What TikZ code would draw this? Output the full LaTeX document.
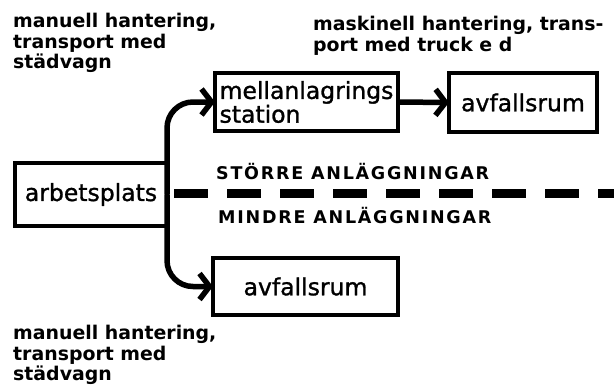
\documentclass[tikz,border=0pt]{standalone}
\usepackage{fontspec}
\setmainfont{DejaVu Sans}
\newfontfamily\capsfont[LetterSpace=10]{DejaVu Sans}
\newfontfamily\boxfont[FakeBold=1.2]{DejaVu Sans}
\usetikzlibrary{arrows.meta}

\tikzset{
  box/.style={draw, line width=3.5pt, outer sep=0pt, inner sep=0pt, font=\fontsize{23.5}{20}\boxfont},
  conn/.style={line width=5.5pt, rounded corners=26pt, -{Straight Barb[length=10pt,width=26pt]}},
  note/.style={anchor=north west, inner sep=0pt, align=left, font=\fontsize{18.9}{20.5}\selectfont\bfseries},
  sidetext/.style={anchor=west, inner sep=0pt, font=\fontsize{17.5}{18}\capsfont\bfseries}
}

\begin{document}
\begin{tikzpicture}[x=1pt,y=1pt,yscale=-1,xscale=1]
\useasboundingbox (0,0) rectangle (614,384);

%Shape: Rectangle
\node [box, minimum width=152, minimum height=63] (arb) at (91,194.5) {arbetsplats};
%Shape: Rectangle
\node [box, minimum width=183, minimum height=58, align=left] (mellan) at (306.5,102) {mellanlagrings\\station};
%Shape: Rectangle
\node [box, minimum width=148, minimum height=59] (rumA) at (523,102.5) {avfallsrum};
%Shape: Rectangle
\node [box, minimum width=185, minimum height=57] (rumB) at (305.5,286.5) {avfallsrum};

%Straight Lines
\draw [conn] (arb.east) |- (mellan.west);
\draw [conn] (arb.east) |- (rumB.west);
\draw [conn] (mellan.east) -- (rumA.west);

%Dashed border
\coordinate (dl) at (174,193);
\coordinate (dr) at (614,193);
\draw [line width=9pt, dash pattern=on 34pt off 19pt] (dl) -- (dr);

% Text Node
\node [sidetext] (storre) at (216,172) {STÖRRE ANLÄGGNINGAR};
% Text Node
\node [sidetext] (mindre) at (218,216) {MINDRE ANLÄGGNINGAR};
% Text Node
\node [note] (manA) at (13,13) {manuell hantering,\\transport med\\städvagn};
% Text Node
\node [note] (mask) at (313,16) {maskinell hantering, trans-\\port med truck e d};
% Text Node
\node [note] (manB) at (13,325) {manuell hantering,\\transport med\\städvagn};

\end{tikzpicture}
\end{document}
